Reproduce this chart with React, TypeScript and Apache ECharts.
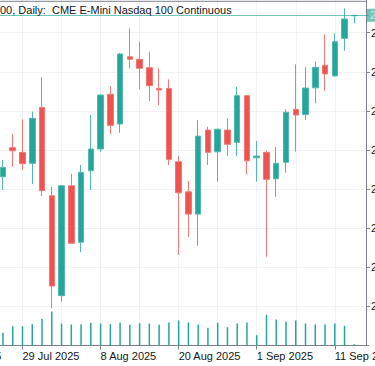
import React, { useEffect, useRef } from 'react';
import * as echarts from 'echarts';

// Trading days shown on the category axis (first ones are left of the visible crop)
const axisDates = [
  '2025-07-17', '2025-07-18', '2025-07-21', '2025-07-22', '2025-07-23', '2025-07-24', '2025-07-25',
  '2025-07-28', '2025-07-29', '2025-07-30', '2025-07-31', '2025-08-01', '2025-08-04', '2025-08-05',
  '2025-08-06', '2025-08-07', '2025-08-08', '2025-08-11', '2025-08-12', '2025-08-13', '2025-08-14',
  '2025-08-15', '2025-08-18', '2025-08-19', '2025-08-20', '2025-08-21', '2025-08-22', '2025-08-25',
  '2025-08-26', '2025-08-27', '2025-08-28', '2025-08-29', '2025-09-01', '2025-09-02', '2025-09-03',
  '2025-09-04', '2025-09-05', '2025-09-08', '2025-09-09', '2025-09-10', '2025-09-11', '2025-09-12',
  '2025-09-15', '2025-09-16',
];
const firstCandleDate = '2025-07-25';

const opens = [23463, 23612, 23588, 23532, 23818, 23366, 22855, 23417, 23128, 23494, 23605, 23885, 23733, 24077, 24064, 24021, 23915, 23915, 23540, 23386, 23272, 23702, 23591, 23702, 23639, 23878, 23560, 23588, 23453, 23537, 23808, 23781, 23918, 24033, 23979, 24171, 24287];
const closes = [23511, 23596, 23530, 23762, 23392, 22904, 23417, 23123, 23486, 23605, 23881, 23726, 24091, 24064, 24018, 23929, 23907, 23552, 23381, 23272, 23671, 23588, 23706, 23629, 23878, 23545, 23569, 23450, 23532, 23793, 23779, 23917, 24023, 23989, 24154, 24270, 24289];
const lows = [23395, 23514, 23497, 23426, 23365, 22790, 22824, 23119, 23077, 23395, 23591, 23682, 23688, 24018, 23910, 23850, 23830, 23523, 23063, 23156, 23110, 23523, 23438, 23569, 23569, 23476, 23438, 23054, 23361, 23484, 23591, 23753, 23839, 23903, 23975, 24108, 24248];
const highs = [23549, 23682, 23757, 23796, 23972, 23412, 23421, 23477, 23523, 23779, 23886, 23927, 24096, 24222, 24154, 24103, 24018, 23961, 23569, 23441, 23753, 23719, 23710, 23762, 23924, 23880, 23646, 23596, 23614, 23808, 24038, 24023, 24052, 24192, 24197, 24325, 24291];
// volume in thousands of contracts
const volumes = [254, 386, 386, 426, 534, 680, 440, 420, 426, 454, 440, 426, 460, 414, 446, 440, 414, 460, 500, 460, 420, 354, 454, 366, 440, 460, 206, 614, 520, 480, 500, 440, 420, 426, 440, 394, 26];

const priceMin = 22600;
const priceMax = 24400;
const priceStep = 200;
const volumeMax = 800;

const titleText = '00, Daily:  CME E-Mini Nasdaq 100 Continuous';
const months = ['Jan', 'Feb', 'Mar', 'Apr', 'May', 'Jun', 'Jul', 'Aug', 'Sep', 'Oct', 'Nov', 'Dec'];

const UP = '#26a69a';
const DOWN = '#ef5350';
const FONT = '"Liberation Sans", Arial, sans-serif';

export default function App() {
  const ref = useRef<HTMLDivElement>(null);

  useEffect(() => {
    if (!ref.current) return;
    const chart = echarts.init(ref.current, undefined, { renderer: 'svg' });
    const start = axisDates.indexOf(firstCandleDate);
    const candleData = axisDates.map((_, i) => {
      const k = i - start;
      if (k < 0 || k >= opens.length) return '-';
      return [opens[k], closes[k], lows[k], highs[k]];
    });
    const volData = axisDates.map((_, i) => {
      const k = i - start;
      if (k < 0 || k >= volumes.length) return '-';
      return volumes[k];
    });
    const lastClose = closes[closes.length - 1];

    const gridL = 9.55;
    const gridR = 6.05;
    const axisColor = '#7f828a';
    const gridColor = '#e3e5ea';

    chart.setOption({
      animation: false,
      backgroundColor: '#ffffff',
      textStyle: { fontFamily: FONT },
      grid: [
        { left: gridL, right: gridR, top: 3.6, bottom: 20.5, containLabel: false, outerBoundsMode: 'none' },
        { left: gridL, right: gridR, bottom: 20.5, height: 40, containLabel: false, outerBoundsMode: 'none' },
      ],
      xAxis: [
        {
          type: 'category',
          gridIndex: 0,
          data: axisDates,
          axisLine: { show: true, lineStyle: { color: axisColor, width: 1 } },
          axisTick: { show: true, interval: 7, alignWithLabel: true, length: 4, lineStyle: { color: axisColor } },
          axisLabel: {
            interval: 7,
            align: 'left',
            margin: 5,
            fontSize: 11,
            fontFamily: FONT,
            color: '#131722',
            hideOverlap: false,
            formatter: (v: string) => {
              const [y, m, d] = v.split('-');
              return `${Number(d)} ${months[Number(m) - 1]} ${y}`;
            },
          },
          splitLine: {
            show: true,
            interval: 3,
            alignWithLabel: true,
            lineStyle: { color: gridColor, type: 'dotted', width: 1 },
          },
        },
        {
          type: 'category',
          gridIndex: 1,
          data: axisDates,
          show: false,
        },
      ],
      yAxis: [
        {
          type: 'value',
          gridIndex: 0,
          position: 'right',
          offset: -2.95,
          min: priceMin,
          max: priceMax,
          interval: priceStep,
          axisLine: { show: true, lineStyle: { color: axisColor, width: 1 } },
          axisTick: { show: true, length: 4, lineStyle: { color: axisColor } },
          axisLabel: {
            show: true,
            margin: 5,
            fontSize: 11,
            fontFamily: FONT,
            color: '#131722',
            showMinLabel: false,
            showMaxLabel: false,
            formatter: (v: number) => v.toFixed(2),
          },
          splitLine: { show: true, lineStyle: { color: gridColor, type: 'dotted', width: 1 } },
        },
        {
          type: 'value',
          gridIndex: 1,
          min: 0,
          max: volumeMax,
          show: false,
          splitLine: { show: false },
        },
      ],
      series: [
        {
          type: 'candlestick',
          xAxisIndex: 0,
          yAxisIndex: 0,
          data: candleData,
          barWidth: 6,
          itemStyle: {
            color: UP,
            color0: DOWN,
            borderColor: '#52b9ae',
            borderColor0: '#f37875',
            borderWidth: 1,
          },
          markLine: {
            silent: true,
            symbol: ['none', 'none'],
            data: [{ yAxis: lastClose }],
            lineStyle: { color: UP, opacity: 0.65, width: 1, type: 'solid' },
            label: {
              show: true,
              position: 'end',
              distance: -2,
              formatter: (p: any) => Number(p.value).toFixed(2),
              backgroundColor: UP,
              color: '#ffffff',
              fontSize: 11,
              fontFamily: FONT,
              padding: [1, 3],
            },
          },
        },
        {
          type: 'bar',
          xAxisIndex: 1,
          yAxisIndex: 1,
          data: volData,
          barWidth: 1.5,
          itemStyle: { color: UP },
        },
      ],
      graphic: [
        {
          type: 'line',
          shape: { x1: 0, y1: 11.3, x2: 436, y2: 11.3 },
          style: { stroke: axisColor, lineWidth: 1 },
          z: 10,
        },
        {
          type: 'text',
          x: 70,
          y: 19.5,
          z: 11,
          style: {
            text: titleText,
            fontSize: 11,
            fontFamily: FONT,
            fill: '#131722',
            align: 'left',
            verticalAlign: 'middle',
          },
        },
      ],
    });
    return () => chart.dispose();
  }, []);

  return (
    <div
      ref={ref}
      style={{ position: 'fixed', left: -70, top: -10, width: 445, height: 376 }}
    />
  );
}
